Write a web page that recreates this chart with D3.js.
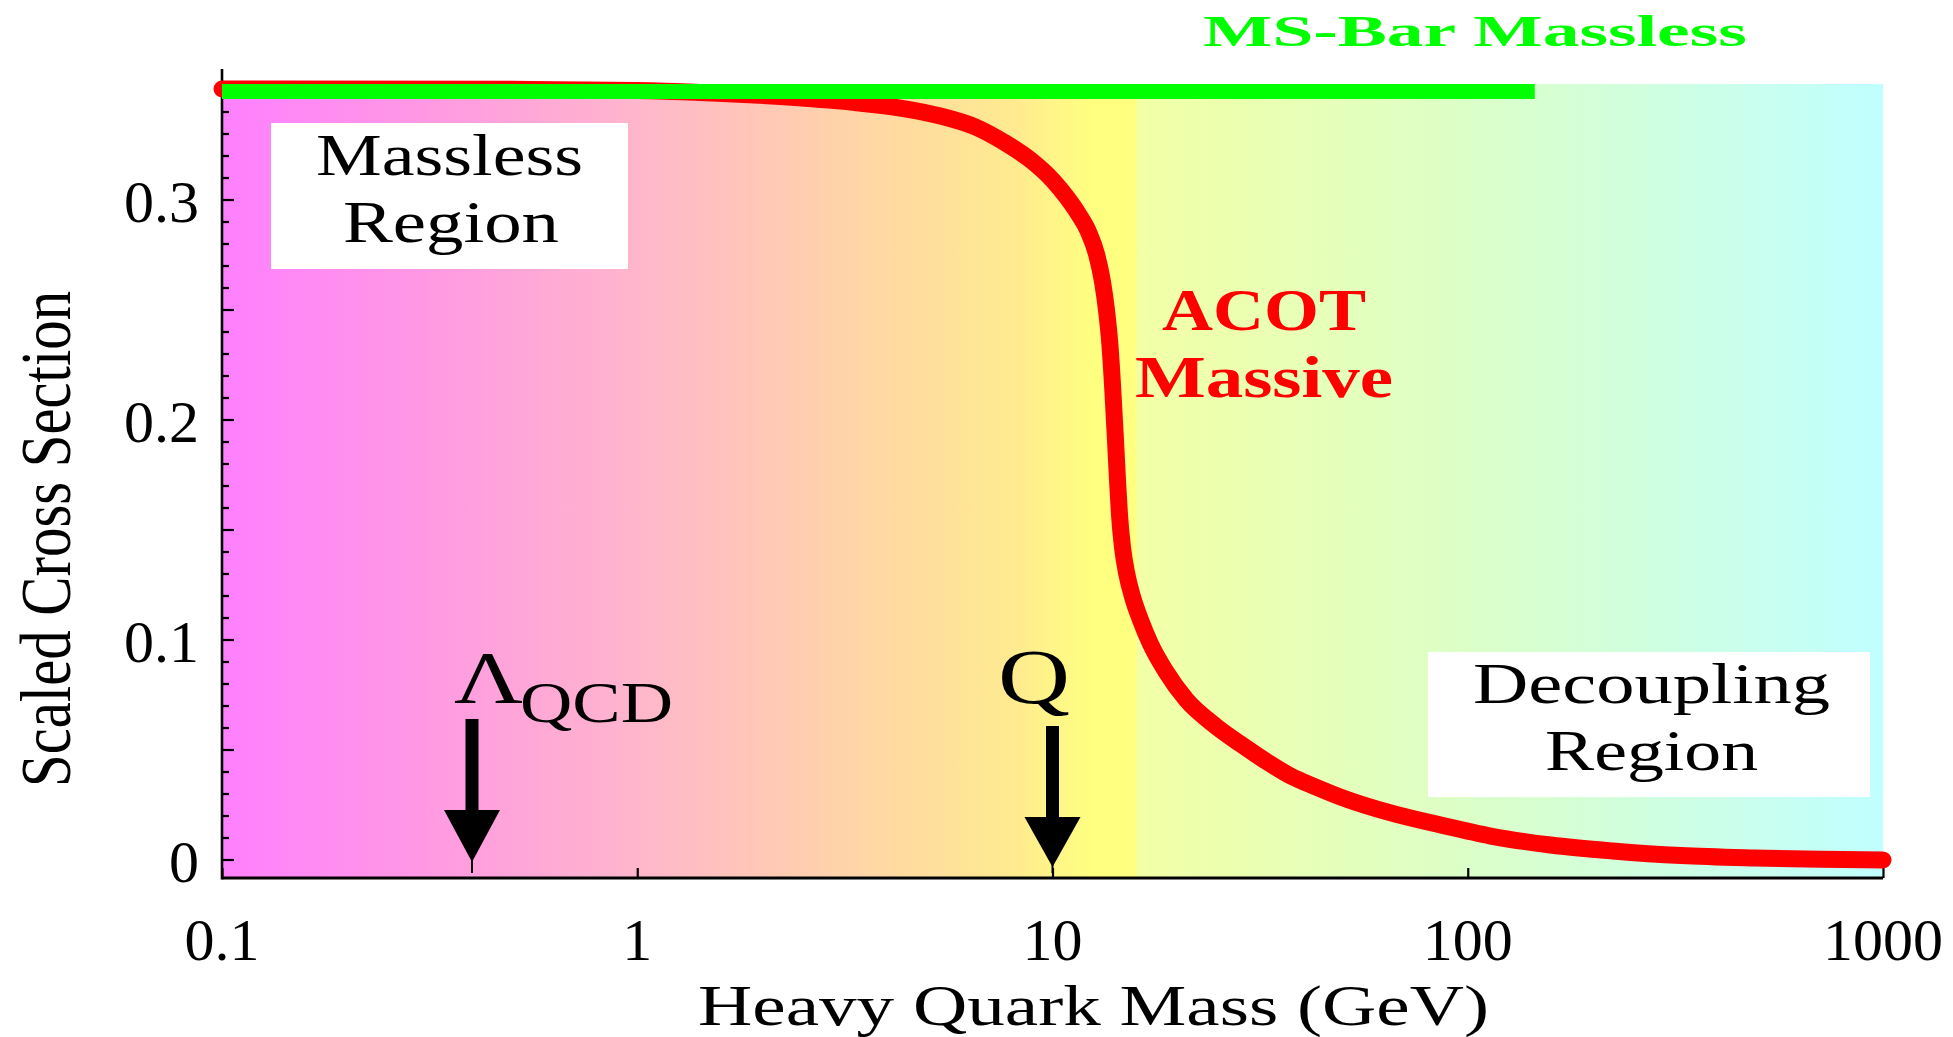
<!DOCTYPE html>
<html><head><meta charset="utf-8">
<script src="https://cdn.jsdelivr.net/npm/d3@7"></script>
<style>html,body{margin:0;padding:0;background:#fff;} svg{display:block;}</style>
</head><body>
<svg id="chart" width="1953" height="1037"></svg>
<script>
// ---- data ----
const xTickValues = [0.1, 1, 10, 100, 1000];
const xTickLabels = ["0.1", "1", "10", "100", "1000"];
const yTickValues = [0, 0.1, 0.2, 0.3];
const yTickLabels = ["0", "0.1", "0.2", "0.3"];
const acotMass  = [0.1, 0.5, 1.0, 1.418, 2.211, 3.261, 4.302, 5.372, 6.524, 7.704, 8.851, 10.0, 10.81, 11.55, 12.21, 12.76, 13.20, 13.49, 13.72, 13.95, 14.18, 14.34, 14.50, 14.75, 15.08, 15.59, 16.29, 17.22, 18.72, 21.03, 24.71, 28.38, 32.61, 37.46, 43.03, 49.43, 65.24, 86.08, 113.6, 158.5, 223.6, 326.1, 488.9, 708.9, 1000];
const acotValue = [0.3505, 0.3503, 0.3498, 0.3489, 0.3470, 0.3445, 0.3418, 0.3382, 0.3332, 0.3259, 0.3182, 0.3091, 0.3014, 0.2936, 0.2855, 0.2755, 0.2627, 0.2500, 0.2364, 0.2159, 0.1909, 0.1727, 0.1568, 0.1418, 0.1305, 0.1195, 0.1091, 0.0982, 0.0859, 0.0727, 0.0609, 0.0527, 0.0450, 0.0382, 0.0332, 0.0286, 0.0214, 0.0159, 0.0109, 0.0068, 0.0041, 0.0020, 0.0009, 0.0003, 0.0];
const msbarMass  = [0.1, 145];
const msbarValue = [0.3493, 0.3493];
const lambdaQCD = 0.4;
const scaleQ = 10;

// ---- layout / style ----
const plotL = 222, plotR = 1883, plotT = 84, plotB = 878;
const serif = "'Liberation Serif','Times New Roman',serif";
const bgStops = [
  [0.1, "#ff80ff"], [0.3, "#ff98e4"], [1, "#ffb6cc"], [3, "#ffd2aa"],
  [8, "#ffea90"], [12.5, "#ffff80"], [15.9, "#ffff80"], [16.0, "#f2ffa6"],
  [100, "#dcffc8"], [1000, "#c0ffff"]
];

const svg = d3.select("#chart");
const x = d3.scaleLog().domain([0.1, 1000]).range([plotL, plotR]);
const y = d3.scaleLinear().domain([-0.00818, 0.35273]).range([plotB, plotT]);

// background gradient
const defs = svg.append("defs");
const grad = defs.append("linearGradient").attr("id", "bg")
  .attr("gradientUnits", "userSpaceOnUse")
  .attr("x1", plotL).attr("x2", plotR).attr("y1", 0).attr("y2", 0);
bgStops.forEach(([m, c]) => grad.append("stop")
  .attr("offset", (x(m) - plotL) / (plotR - plotL)).attr("stop-color", c));
svg.append("rect").attr("x", plotL).attr("y", plotT)
  .attr("width", plotR - plotL).attr("height", plotB - plotT).attr("fill", "url(#bg)");

// y ticks (inside, pointing right)
const minorVals = d3.range(0, 36).map(i => i / 100).filter(v => y(v) >= plotT);
svg.append("g").selectAll("line").data(minorVals).join("line")
  .attr("x1", plotL).attr("x2", d => plotL + (Math.round(d * 100) % 5 === 0 ? 12 : 7))
  .attr("y1", d => y(d)).attr("y2", d => y(d))
  .attr("stroke", "#000").attr("stroke-width", 2.2);

// y labels via axis
const yAxis = d3.axisLeft(y).tickValues(yTickValues).tickSize(0).tickPadding(23)
  .tickFormat((d, i) => yTickLabels[i]);
const gy = svg.append("g").attr("transform", `translate(${plotL},0)`).call(yAxis);
gy.select(".domain").remove();
gy.selectAll("text").attr("font-family", serif).attr("font-size", 60)
  .attr("fill", "#000").attr("dy", "0.36em");

// x ticks (pointing up) and labels
const xAxis = d3.axisTop(x).tickValues(xTickValues).tickSize(10).tickFormat("");
const gx = svg.append("g").attr("transform", `translate(0,${plotB})`).call(xAxis);
gx.select(".domain").remove();
gx.selectAll("line").attr("stroke", "#000").attr("stroke-width", 2.2);
svg.append("g").selectAll("text").data(xTickValues).join("text")
  .attr("x", d => x(d)).attr("y", 960)
  .attr("text-anchor", "middle").attr("font-family", serif).attr("font-size", 60)
  .text((d, i) => xTickLabels[i]);

// axis lines
svg.append("line").attr("x1", plotL).attr("x2", plotL).attr("y1", 69).attr("y2", plotB + 1.5)
  .attr("stroke", "#000").attr("stroke-width", 2.6);
svg.append("line").attr("x1", plotL).attr("x2", plotR).attr("y1", plotB).attr("y2", plotB)
  .attr("stroke", "#000").attr("stroke-width", 3);

// axis titles
svg.append("text").attr("x", 698).attr("y", 1025)
  .attr("font-family", serif).attr("font-size", 57)
  .attr("textLength", 791).attr("lengthAdjust", "spacingAndGlyphs")
  .text("Heavy Quark Mass (GeV)");
svg.append("text").attr("transform", "translate(70,539) rotate(-90)")
  .attr("text-anchor", "middle").attr("font-family", serif).attr("font-size", 72)
  .attr("textLength", 496).attr("lengthAdjust", "spacingAndGlyphs")
  .text("Scaled Cross Section");

// region boxes
function box(x0, y0, x1, y1) {
  svg.append("rect").attr("x", x0).attr("y", y0).attr("width", x1 - x0).attr("height", y1 - y0)
    .attr("fill", "#fff");
}
function label(t, x0, yb, fs, tl, opts = {}) {
  svg.append("text").attr("x", x0).attr("y", yb)
    .attr("font-family", serif).attr("font-size", fs)
    .attr("font-weight", opts.bold ? "bold" : "normal")
    .attr("fill", opts.fill || "#000")
    .attr("textLength", tl).attr("lengthAdjust", "spacingAndGlyphs")
    .text(t);
}
box(271, 123, 628, 269);
label("Massless", 316, 175, 60, 267);
label("Region", 343, 242, 60, 216);
box(1428, 652, 1870, 797);
label("Decoupling", 1473, 703, 57, 357);
label("Region", 1545, 770, 57, 213);

// curve labels
label("ACOT", 1162, 330, 60, 204, {bold: true, fill: "#ff0000"});
label("Massive", 1135, 397, 60, 258, {bold: true, fill: "#ff0000"});
label("MS-Bar Massless", 1203, 46, 44, 544, {bold: true, fill: "#00ff00"});

// Lambda_QCD and Q markers
label("\u039B", 454, 703, 74, 69);
label("QCD", 520, 722, 58, 153);
label("Q", 998, 703, 78, 72);

function arrow(m, yTop, yHead, yTip) {
  const cx = x(m);
  svg.append("rect").attr("x", cx - 6.5).attr("y", yTop).attr("width", 13).attr("height", yHead - yTop + 2)
    .attr("fill", "#000");
  svg.append("polygon")
    .attr("points", `${cx - 28},${yHead} ${cx + 28},${yHead} ${cx},${yTip}`)
    .attr("fill", "#000");
  svg.append("line").attr("x1", cx).attr("x2", cx).attr("y1", yTip - 4).attr("y2", 873)
    .attr("stroke", "#000").attr("stroke-width", 2);
}
arrow(lambdaQCD, 719, 810, 862);
arrow(scaleQ, 726, 817, 867);

// curves
const acot = acotMass.map((m, i) => [m, acotValue[i]]);
const msbar = msbarMass.map((m, i) => [m, msbarValue[i]]);
const line = d3.line().x(d => x(d[0])).y(d => y(d[1])).curve(d3.curveMonotoneX);
svg.append("path").attr("d", line(acot)).attr("fill", "none")
  .attr("stroke", "#ff0000").attr("stroke-width", 17)
  .attr("stroke-linecap", "round").attr("stroke-linejoin", "round");
svg.append("path").attr("d", d3.line().x(d => x(d[0])).y(d => y(d[1]))(msbar)).attr("fill", "none")
  .attr("stroke", "#00ff00").attr("stroke-width", 15).attr("stroke-linecap", "butt");
</script>
</body></html>
